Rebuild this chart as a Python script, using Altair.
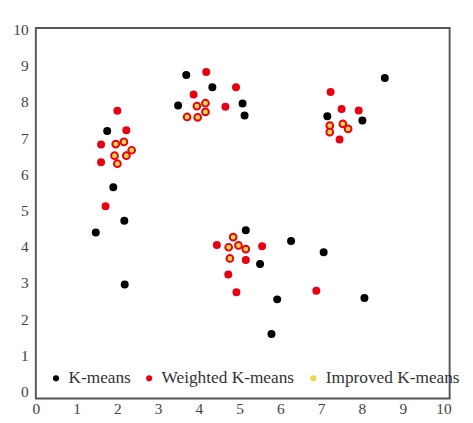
import altair as alt
import pandas as pd

kmeans_x = [1.75, 1.90, 1.47, 2.17, 2.18, 3.69, 4.33, 3.49, 5.07, 5.12, 8.56, 7.15, 8.01,
            5.15, 6.26, 7.06, 5.50, 5.92, 8.06, 5.78]
kmeans_y = [7.20, 5.65, 4.40, 4.72, 2.96, 8.75, 8.41, 7.91, 7.96, 7.63, 8.67, 7.61, 7.49,
            4.46, 4.16, 3.85, 3.53, 2.55, 2.59, 1.59]

weighted_x = [2.00, 2.22, 1.60, 1.60, 1.71, 4.18, 4.91, 3.87, 4.65, 7.23, 7.50, 7.92, 7.45,
              4.44, 5.55, 5.15, 4.72, 4.92, 6.88]
weighted_y = [7.76, 7.22, 6.83, 6.34, 5.12, 8.83, 8.41, 8.21, 7.87, 8.28, 7.81, 7.77, 6.97,
              4.05, 4.02, 3.64, 3.24, 2.75, 2.79]

improved_x = [1.96, 2.16, 2.35, 1.93, 2.22, 2.00, 3.95, 4.16, 4.16, 3.71, 3.97,
              7.21, 7.53, 7.66, 7.21, 4.84, 4.73, 4.97, 5.15, 4.76]
improved_y = [6.84, 6.90, 6.67, 6.52, 6.52, 6.30, 7.89, 7.97, 7.73, 7.59, 7.58,
              7.35, 7.40, 7.26, 7.17, 4.27, 3.99, 4.04, 3.94, 3.68]

methods = ["K-means", "Weighted K-means", "Improved K-means"]
fills = ["#000000", "#e60012", "#f0d848"]
strokes = ["#000000", "#e60012", "#e60012"]
sizes = [40, 40, 50]

rows = []
for i, (xs, ys) in enumerate([(kmeans_x, kmeans_y), (weighted_x, weighted_y),
                              (improved_x, improved_y)]):
    for x, y in zip(xs, ys):
        rows.append({"x": x, "y": y, "method": methods[i],
                     "stroke_col": strokes[i], "size_col": sizes[i]})
df = pd.DataFrame(rows)

font = "Liberation Serif"

legend = alt.Legend(
    title=None, orient="bottom-left", direction="horizontal", offset=12,
    labelFont=font, labelFontSize=18, labelColor="#333333",
    symbolSize=40, labelOffset=4,
)

chart = alt.Chart(df).mark_point(filled=True, opacity=1, shape="circle", strokeWidth=2).encode(
    x=alt.X("x:Q", scale=alt.Scale(domain=[0, 10.15], nice=False, zero=False),
            axis=alt.Axis(values=list(range(0, 11)), title=None, ticks=False, domain=False,
                          grid=False, labelPadding=3, labelFlush=False, labelFont=font,
                          labelFontSize=16, labelColor="#444444")),
    y=alt.Y("y:Q", scale=alt.Scale(domain=[-0.19, 10.05], nice=False, zero=False),
            axis=alt.Axis(values=list(range(0, 11)), title=None, ticks=False, domain=False,
                          grid=False, labelPadding=8, labelFont=font, labelFlush=False,
                          labelFontSize=16, labelColor="#444444",
                          minExtent=24, maxExtent=24)),
    color=alt.Color("method:N", scale=alt.Scale(domain=methods, range=fills), legend=legend),
    stroke=alt.Stroke("stroke_col:N", scale=None),
    size=alt.Size("size_col:Q", scale=None),
).properties(
    width=431, height=386,
).configure_view(
    stroke="#555555", strokeWidth=2
)

chart.save("out.html", embed_options={"renderer": "svg", "actions": False})
